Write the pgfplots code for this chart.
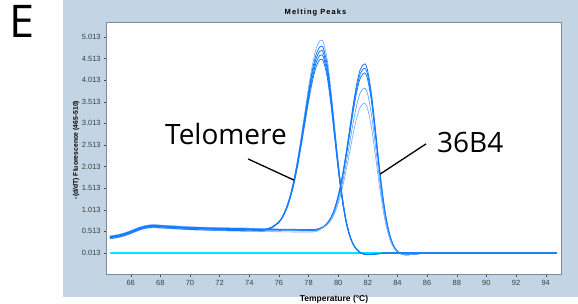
\documentclass[border=0pt]{standalone}
\usepackage{fontspec}
\setmainfont{Liberation Sans}
\newfontfamily\annot{Open Sans}
\newfontfamily\spaced[LetterSpace=14]{Liberation Sans}
\usepackage{pgfplots}
\usepackage{pgfplotstable}
\pgfplotsset{compat=1.18}
\definecolor{panel}{RGB}{195,212,228}
\definecolor{framec}{RGB}{128,138,150}
\definecolor{curve}{RGB}{20,122,255}
\definecolor{cyanl}{RGB}{0,228,255}

\pgfplotstableread{
x t1 t2 t3 t4 t5
64.6 0.41 0.39 0.38 0.37 0.35
65.0 0.43 0.41 0.40 0.39 0.37
65.5 0.47 0.45 0.44 0.43 0.41
66.0 0.53 0.51 0.50 0.49 0.47
66.5 0.60 0.58 0.57 0.56 0.54
67.0 0.65 0.63 0.62 0.61 0.59
67.5 0.67 0.65 0.64 0.63 0.61
68.0 0.66 0.64 0.63 0.62 0.60
69.0 0.64 0.62 0.61 0.60 0.58
70.0 0.62 0.60 0.59 0.58 0.56
71.0 0.61 0.59 0.58 0.57 0.55
72.0 0.60 0.58 0.57 0.56 0.54
73.0 0.595 0.575 0.565 0.555 0.535
74.0 0.59 0.57 0.56 0.55 0.53
75.0 0.57 0.56 0.553 0.55 0.54
75.5 0.615 0.605 0.605 0.60 0.59
76.00 0.741 0.735 0.731 0.726 0.722
76.25 0.872 0.862 0.855 0.848 0.841
76.50 1.069 1.053 1.042 1.030 1.019
76.75 1.342 1.318 1.301 1.283 1.266
77.00 1.710 1.674 1.648 1.623 1.597
77.25 2.166 2.116 2.081 2.045 2.009
77.50 2.703 2.636 2.588 2.541 2.493
77.75 3.278 3.193 3.132 3.072 3.011
78.00 3.851 3.748 3.674 3.601 3.527
78.25 4.352 4.233 4.148 4.062 3.977
78.50 4.730 4.598 4.504 4.410 4.316
78.75 4.921 4.782 4.683 4.584 4.485
78.90 4.940 4.800 4.700 4.600 4.500
79.00 4.888 4.749 4.650 4.550 4.451
79.25 4.509 4.380 4.288 4.197 4.105
79.50 3.822 3.713 3.635 3.557 3.479
79.75 2.978 2.893 2.832 2.772 2.711
80.00 2.133 2.073 2.029 1.986 1.943
80.25 1.406 1.367 1.338 1.310 1.282
80.50 0.849 0.825 0.808 0.791 0.774
80.75 0.469 0.456 0.446 0.437 0.428
81.00 0.235 0.229 0.224 0.219 0.215
81.25 0.100 0.097 0.095 0.093 0.091
81.50 0.023 0.021 0.020 0.019 0.019
81.75 -0.014 -0.014 -0.014 -0.014 -0.014
82.00 -0.024 -0.024 -0.024 -0.024 -0.024
82.50 -0.010 -0.010 -0.010 -0.010 -0.010
83.00 0.005 0.005 0.005 0.005 0.005
84.00 0.013 0.013 0.013 0.013 0.013
94.75 0.013 0.013 0.013 0.013 0.013
}\telo

\pgfplotstableread{
x b1 b2 b3 b4 b5
64.6 0.40 0.39 0.38 0.37 0.34
65.0 0.42 0.41 0.40 0.39 0.36
65.5 0.46 0.45 0.44 0.43 0.40
66.0 0.52 0.51 0.50 0.49 0.46
66.5 0.59 0.58 0.57 0.56 0.53
67.0 0.64 0.63 0.62 0.61 0.58
67.5 0.66 0.65 0.64 0.63 0.60
68.0 0.65 0.64 0.63 0.62 0.59
69.0 0.63 0.62 0.61 0.60 0.57
70.0 0.61 0.60 0.59 0.58 0.55
71.0 0.60 0.59 0.58 0.57 0.54
72.0 0.59 0.58 0.57 0.56 0.53
73.0 0.58 0.57 0.56 0.55 0.52
74.0 0.575 0.565 0.555 0.545 0.515
75.0 0.57 0.56 0.55 0.54 0.51
76.0 0.565 0.555 0.545 0.535 0.505
77.0 0.56 0.55 0.54 0.53 0.50
78.0 0.555 0.545 0.535 0.525 0.50
78.5 0.56 0.55 0.54 0.53 0.51
79.00 0.621 0.619 0.617 0.610 0.603
79.25 0.699 0.695 0.691 0.677 0.663
79.50 0.831 0.824 0.816 0.791 0.766
79.75 1.036 1.024 1.011 0.968 0.925
80.00 1.341 1.322 1.300 1.231 1.161
80.25 1.748 1.718 1.685 1.580 1.475
80.50 2.261 2.218 2.171 2.021 1.870
80.75 2.833 2.776 2.712 2.510 2.309
81.00 3.417 3.344 3.265 3.010 2.756
81.25 3.925 3.839 3.745 3.444 3.143
81.50 4.270 4.174 4.069 3.734 3.400
81.80 4.390 4.290 4.180 3.830 3.480
82.00 4.213 4.116 4.009 3.670 3.331
82.25 3.681 3.596 3.502 3.203 2.904
82.50 2.916 2.848 2.773 2.534 2.296
82.75 2.095 2.046 1.992 1.819 1.646
83.00 1.363 1.330 1.294 1.181 1.067
83.25 0.793 0.774 0.753 0.685 0.617
83.50 0.409 0.398 0.387 0.350 0.314
83.75 0.175 0.170 0.165 0.147 0.129
84.00 0.053 0.051 0.049 0.041 0.033
84.25 -0.002 -0.003 -0.004 -0.007 -0.011
84.50 -0.026 -0.026 -0.027 -0.028 -0.029
85.00 -0.020 -0.020 -0.020 -0.020 -0.020
85.50 0.000 0.000 0.000 0.000 0.000
86.00 0.013 0.013 0.013 0.013 0.013
94.75 0.013 0.013 0.013 0.013 0.013
}\bfour

\pgfplotstableread{
x y
64.6 0.013
94.75 0.013
}\flat

\begin{document}
\begin{tikzpicture}[x=1pt,y=1pt]
\useasboundingbox (0,0) rectangle (578,303);
\fill[white] (0,0) rectangle (578,303);
\fill[panel] (63,6) rectangle (578,303);
\begin{axis}[
  at={(106.7pt,28.3pt)}, anchor=south west,
  scale only axis, width=455pt, height=252.4pt,
  xmin=64.38, xmax=95.08, ymin=-0.489, ymax=5.353,
  axis background/.style={fill=white},
  axis line style={framec, line width=0.9pt},
  xtick={66,68,70,72,74,76,78,80,82,84,86,88,90,92,94},
  xticklabels={66,68,70,72,74,76,78,80,82,84,86,88,90,92,94},
  ytick={0.013,0.513,1.013,1.513,2.013,2.513,3.013,3.513,4.013,4.513,5.013},
  yticklabels={0.013,0.513,1.013,1.513,2.013,2.513,3.013,3.513,4.013,4.513,5.013},
  tick align=outside, tick pos=left,
  major tick length=2.5pt,
  tick style={black!70, line width=0.4pt},
  ticklabel style={font=\fontsize{7.5}{8}\selectfont, text=black!75},
  /pgf/number format/assume math mode=true,
  clip=true,
]
\addplot[cyanl, line width=1.2pt] table[x=x,y=y] {\flat};
\addplot[curve, line width=0.8pt, smooth] table[x=x,y=b1] {\bfour};
\addplot[curve, line width=0.8pt, smooth] table[x=x,y=b2] {\bfour};
\addplot[curve, line width=0.8pt, smooth] table[x=x,y=b3] {\bfour};
\addplot[curve!75, line width=0.6pt, smooth] table[x=x,y=b4] {\bfour};
\addplot[curve!65, line width=0.6pt, smooth] table[x=x,y=b5] {\bfour};
\addplot[curve!65, line width=0.6pt, smooth] table[x=x,y=t1] {\telo};
\addplot[curve, line width=0.8pt, smooth] table[x=x,y=t2] {\telo};
\addplot[curve, line width=0.8pt, smooth] table[x=x,y=t3] {\telo};
\addplot[curve, line width=0.8pt, smooth] table[x=x,y=t4] {\telo};
\addplot[curve, line width=0.8pt, smooth] table[x=x,y=t5] {\telo};
\draw[black, line width=1.3pt] (axis cs:73.92,2.19) -- (axis cs:77.02,1.70);
\draw[black, line width=1.3pt] (axis cs:85.93,2.54) -- (axis cs:82.83,1.84);
\end{axis}
\node[anchor=base west, inner sep=0pt, font=\annot\fontsize{28}{30}\selectfont] at (165,158) {Telomere};
\node[anchor=base west, inner sep=0pt, font=\annot\fontsize{28}{30}\selectfont] at (437,150) {36B4};
\node[anchor=base west, inner sep=0pt, font=\annot\fontsize{45}{48}\selectfont] at (9.3,265.7) {E};
\node[font=\spaced\bfseries\fontsize{7.5}{8}\selectfont] at (315.5,290.3) {Melting Peaks};
\node[font=\bfseries\fontsize{8.5}{9}\selectfont] at (334,4) {Temperature (°C)};
\node[rotate=90, font=\bfseries\fontsize{6.8}{7}\selectfont] at (76,153) {-(d/dT) Fluorescence (465-510)};
\end{tikzpicture}
\end{document}
